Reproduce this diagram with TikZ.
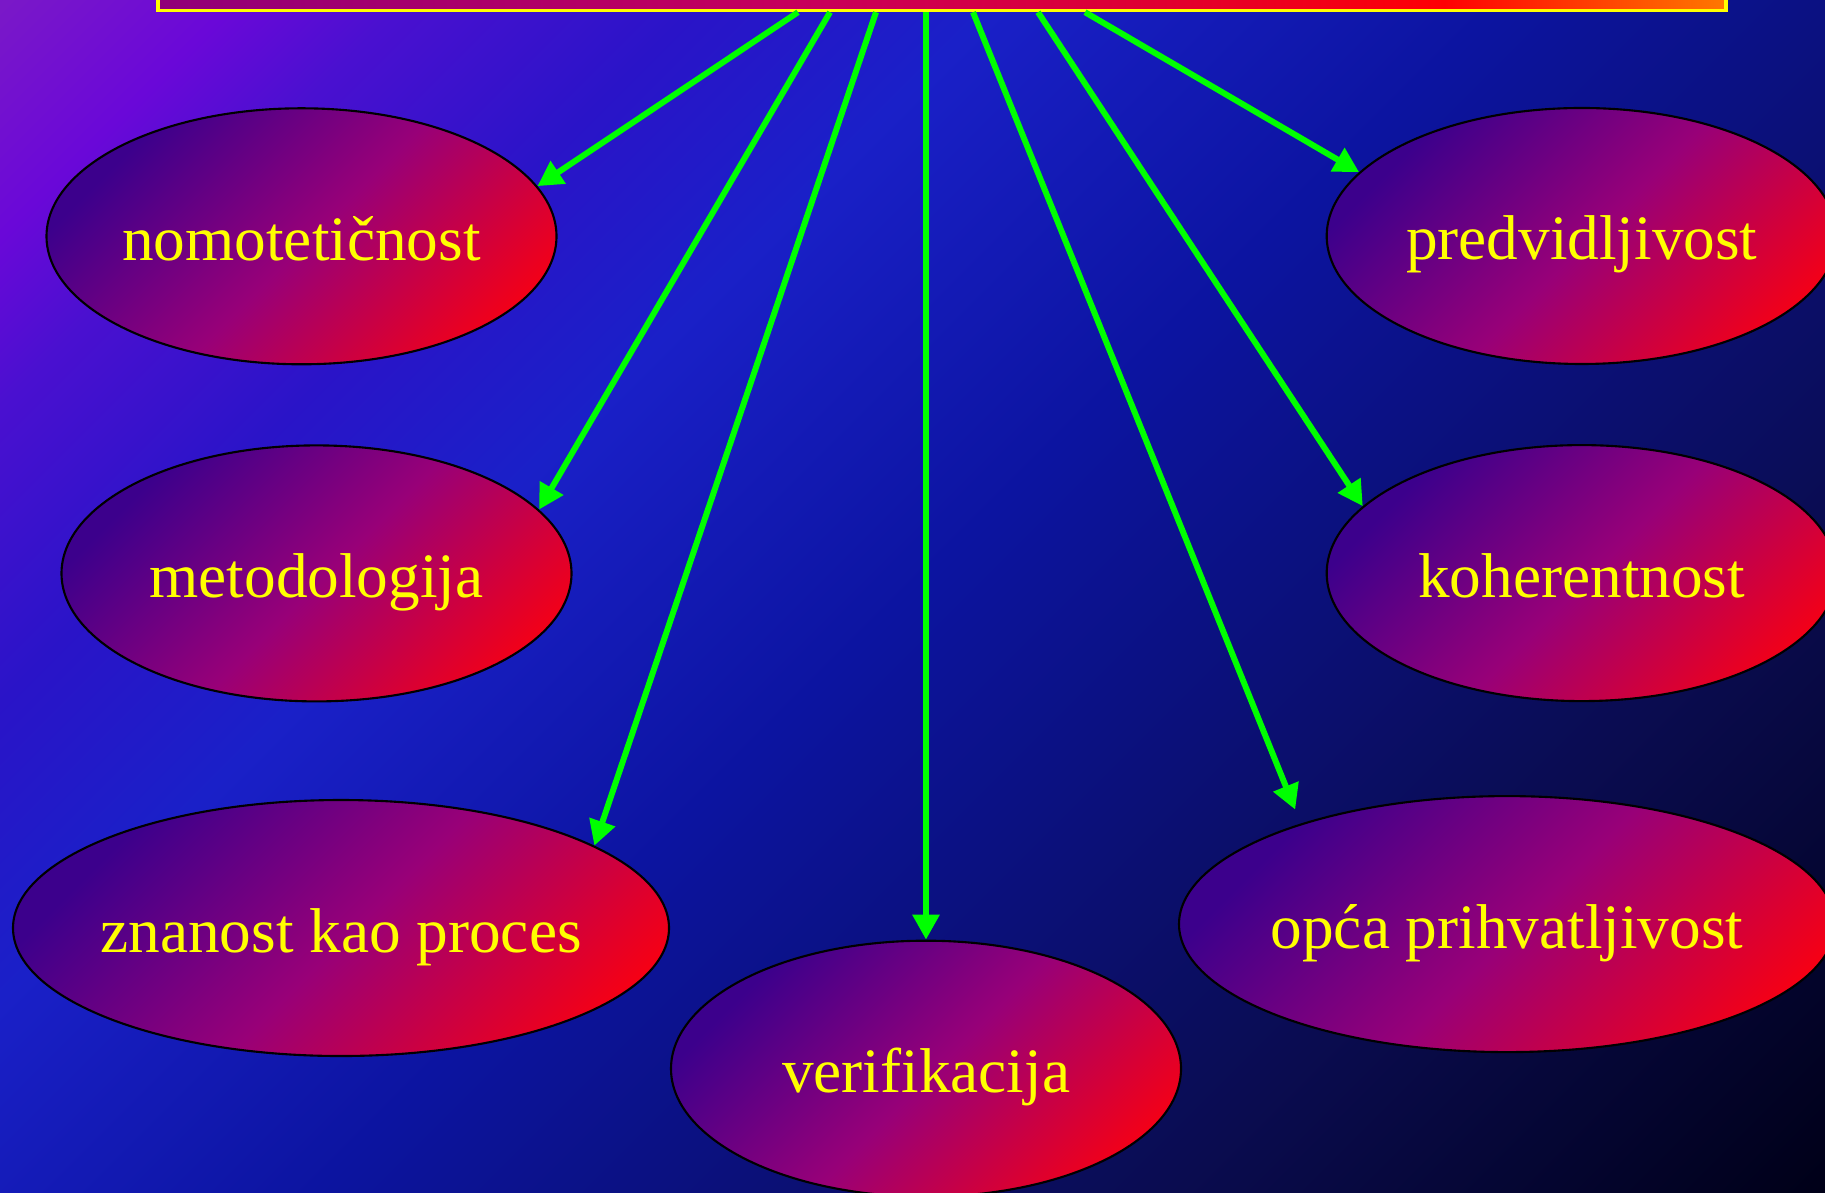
\documentclass[tikz,border=0pt]{standalone}
\usepackage{fontspec}
\setmainfont{Liberation Serif}
\usetikzlibrary{arrows.meta,positioning,shapes.geometric}
\definecolor{bgviolet}{HTML}{7A18C8}
\definecolor{bgpurple}{HTML}{6A08D8}
\definecolor{bgindigo}{HTML}{4A10D0}
\definecolor{bgroyal}{HTML}{2A14C8}
\definecolor{bgblue}{HTML}{1A20C8}
\definecolor{bgmid}{HTML}{0C14A0}
\definecolor{bgnavy}{HTML}{0A0C50}
\definecolor{bgdark}{HTML}{000018}
\definecolor{ovaldark}{HTML}{3C008C}
\definecolor{ovalmid}{HTML}{980078}
\definecolor{ovalred}{HTML}{F50015}
\definecolor{titlemagenta}{HTML}{900078}
\definecolor{titlerose}{HTML}{C8005A}
\definecolor{titlecrimson}{HTML}{E00030}
\definecolor{titlered}{HTML}{FF0004}
\definecolor{titleorange}{HTML}{FF7800}
\definecolor{titleyellow}{HTML}{FFFF00}
\definecolor{ovaltext}{HTML}{FFFF00}
\definecolor{arrowgreen}{HTML}{00FF00}
% gradients run from the upper left corner to the lower right one
\pgfdeclarehorizontalshading{bgshade}{100bp}{color(0bp)=(bgviolet); color(14.6bp)=(bgviolet); color(20bp)=(bgpurple); color(24bp)=(bgindigo); color(31bp)=(bgroyal); color(38bp)=(bgblue); color(50bp)=(bgmid); color(70bp)=(bgnavy); color(85.4bp)=(bgdark); color(100bp)=(bgdark)}
\pgfdeclarehorizontalshading{ovalshade}{100bp}{color(0bp)=(ovaldark); color(26bp)=(ovaldark); color(51bp)=(ovalmid); color(77bp)=(ovalred); color(100bp)=(ovalred)}
\pgfdeclarehorizontalshading{titleshade}{100bp}{color(0bp)=(titlemagenta); color(25bp)=(titlemagenta); color(46bp)=(titlerose); color(57bp)=(titlecrimson); color(66bp)=(titlered); color(75bp)=(titleorange); color(100bp)=(titleorange)}
\tikzset{
  titlebox/.style={
    draw=titleyellow,
    line width=0.9pt,
    shade,
    shading=titleshade,
    inner sep=0pt
  },
  oval/.style={
    ellipse,
    draw=black,
    line width=0.6pt,
    shade,
    shading=ovalshade,
    shading angle=-45,
    text=ovaltext,
    font=\fontsize{18}{22}\selectfont,
    minimum width=5.1cm,
    minimum height=2.56cm,
    inner sep=0pt,
    inner xsep=-0.3cm,
    text height=0.68cm,
    text depth=0.2cm
  },
  ovalwide/.style={oval, minimum width=6.56cm},
  arrow/.style={-{Triangle[length=0.25cm,width=0.26cm]}, line width=1.7pt, draw=arrowgreen}
}
\begin{document}
\begin{tikzpicture}
  \useasboundingbox (0,0) rectangle (18.25,11.92);
  \clip (0,0) rectangle (18.25,11.92);
  \shade[shading=bgshade, shading angle=-45] (0,0) rectangle (18.25,11.92);
  \node[titlebox, minimum width=15.68cm, minimum height=1.5cm, anchor=south] (title) at (9.42,11.798) {};
  \node[oval] (nomo) at (3.015,9.557) {nomotetičnost};
  \node[oval, below=0.79cm of nomo, xshift=0.15cm] (metod) {metodologija};
  \node[ovalwide, below=0.965cm of metod, xshift=0.245cm] (znanost) {znanost kao proces};
  \node[oval] (verif) at (9.26,1.233) {verifikacija};
  \node[oval] (predv) at (15.817,9.56) {predvidljivost};
  \node[oval, below=0.79cm of predv] (koher) {koherentnost};
  \node[ovalwide] (opca) at (15.07,2.679) {opća prihvatljivost};
  \draw[arrow] ([xshift=-1.44cm]title.south) -- (nomo.12);
  \draw[arrow] ([xshift=-1.12cm]title.south) -- (metod.16);
  \draw[arrow] ([xshift=-0.66cm]title.south) -- (znanost.18);
  \draw[arrow] (title.south -| verif.north) -- (verif.north);
  \draw[arrow, shorten >=0.15cm] ([xshift=0.31cm]title.south) -- (opca.154);
  \draw[arrow] ([xshift=0.96cm]title.south) -- (koher.163);
  \draw[arrow] ([xshift=1.43cm]title.south) -- (predv.164);
\end{tikzpicture}
\end{document}
